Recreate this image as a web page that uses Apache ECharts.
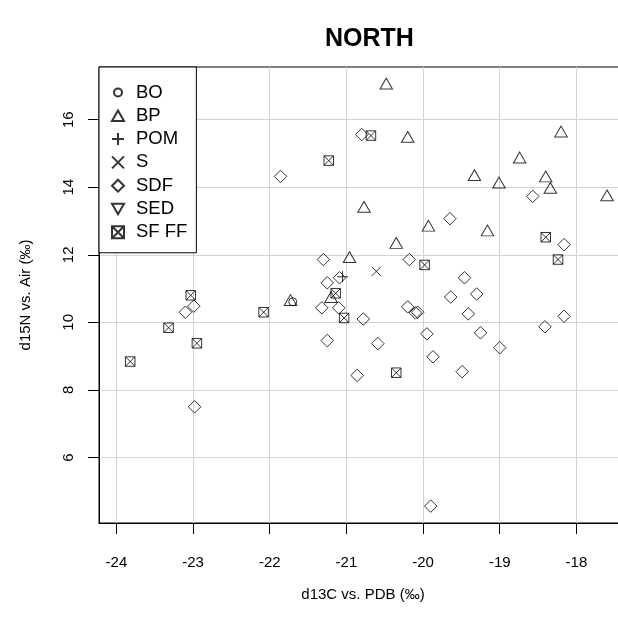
<!DOCTYPE html>
<html>
<head>
<meta charset="utf-8">
<script src="https://cdn.jsdelivr.net/npm/echarts@6/dist/echarts.min.js"></script>
<style>
  html, body { margin: 0; padding: 0; background: #fff; }
  #chart { width: 618px; height: 617px; }
</style>
</head>
<body>
<div id="chart"></div>
<script>
// d13C (x) / d15N (y) per group
const bo = [[-21.70, 10.61]]
const bp = [
  [-20.48, 17.07], [-20.20, 15.49], [-18.20, 15.65], [-18.74, 14.88],
  [-19.33, 14.36], [-19.01, 14.14], [-18.40, 14.32], [-18.34, 13.98],
  [-20.77, 13.42], [-19.93, 12.86], [-19.16, 12.72], [-20.35, 12.35],
  [-20.96, 11.93], [-21.73, 10.66], [-21.20, 10.75], [-17.60, 13.76],
]
const pom = [[-21.05, 11.35]]
const s = [[-20.61, 11.51]]
const sdf = [
  [-20.80, 15.56], [-21.86, 14.32], [-21.30, 11.86], [-18.57, 13.73],
  [-19.65, 13.07], [-18.16, 12.30], [-20.18, 11.86], [-19.46, 11.32],
  [-19.30, 10.84], [-19.64, 10.75], [-21.09, 11.32], [-21.25, 11.17],
  [-22.99, 10.48], [-23.10, 10.30], [-22.98, 7.50], [-21.32, 10.43],
  [-21.10, 10.43], [-21.25, 9.46], [-20.78, 10.10], [-20.59, 9.37],
  [-20.86, 8.43], [-20.20, 10.46], [-20.10, 10.28], [-20.07, 10.30],
  [-19.95, 9.66], [-19.87, 8.98], [-19.41, 10.25], [-19.25, 9.69],
  [-19.00, 9.25], [-19.49, 8.54], [-18.41, 9.87], [-18.16, 10.18],
  [-19.90, 4.56],
]
const sed = []
const sfff = [
  [-21.23, 14.79], [-20.68, 15.53], [-18.40, 12.52], [-18.24, 11.86],
  [-19.98, 11.70], [-23.03, 10.80], [-23.32, 9.84], [-22.95, 9.38],
  [-23.82, 8.84], [-22.08, 10.30], [-21.14, 10.86], [-21.03, 10.13],
  [-20.35, 8.51],
]

const xTicks = [-24, -23, -22, -21, -20, -19, -18]
const yTicks = [6, 8, 10, 12, 14, 16]

const FONT = 'Liberation Sans, Arial, sans-serif'
const open = { color: 'rgba(0,0,0,0)', borderColor: '#000', borderWidth: 1 }

const groups = [
  { name: 'BO', data: bo, symbol: 'circle', size: 8,
    icon: 'path://M0,0M12,12M10,6A4,4,0,1,1,2,6A4,4,0,1,1,10,6Z' },
  { name: 'BP', data: bp, symbol: 'path://M5,0L10,8.66L0,8.66Z', size: [12.5, 10.8] },
  { name: 'POM', data: pom, symbol: 'path://M0,5L10,5M5,0L5,10', size: 11 },
  { name: 'S', data: s, symbol: 'path://M0,0L10,10M10,0L0,10', size: 9 },
  { name: 'SDF', data: sdf, symbol: 'diamond', size: 12.5 },
  { name: 'SED', data: sed, symbol: 'path://M0,0L10,0L5,8.66Z', size: [12.5, 10.8] },
  { name: 'SF FF', data: sfff, symbol: 'path://M0,0L10,0L10,10L0,10ZM0,0L10,10M10,0L0,10', size: 9.5 },
]

const chart = echarts.init(document.getElementById('chart'), null, { renderer: 'canvas' })

// plot region runs a little past the right edge of the picture (box side is cut off)
chart.setOption({
  animation: false,
  backgroundColor: '#fff',
  textStyle: { fontFamily: FONT, color: '#000' },
  title: {
    text: 'NORTH',
    left: 320,
    top: 22,
    textStyle: { fontFamily: FONT, fontSize: 25, fontWeight: 'bold', color: '#000', lineHeight: 25 },
  },
  grid: {
    left: 99, top: 67, width: 528, height: 456,
    outerBoundsMode: 'none',
    containLabel: false,
    show: true, borderColor: '#000', borderWidth: 1, backgroundColor: 'transparent',
  },
  legend: {
    orient: 'vertical',
    left: 99,
    top: 67,
    backgroundColor: '#fff',
    borderColor: '#000',
    borderWidth: 1,
    borderRadius: 0,
    padding: [16, 9, 11, 12],
    itemWidth: 12,
    itemHeight: 12,
    itemGap: 4.3,
    textStyle: { fontFamily: FONT, fontSize: 18.5, lineHeight: 19, color: '#000', padding: [0, 0, 0, 7] },
    data: groups.map((g) => (g.icon ? { name: g.name, icon: g.icon } : { name: g.name })),
    selectedMode: false,
  },
  xAxis: {
    type: 'value',
    min: -24.227,
    max: -17.34,
    name: 'd13C vs. PDB (‰)',
    nameLocation: 'middle',
    nameGap: 64,
    nameTextStyle: { fontFamily: FONT, fontSize: 15, color: '#000', lineHeight: 15 },
    axisLine: { show: true, onZero: false, lineStyle: { color: '#000', width: 1 } },
    axisTick: { show: true, inside: false, length: 11, customValues: xTicks, lineStyle: { color: '#000' } },
    axisLabel: { customValues: xTicks, margin: 32, fontSize: 15, lineHeight: 15, color: '#000', fontFamily: FONT },
    splitLine: { show: true, lineStyle: { color: '#d3d3d3', width: 1 } },
  },
  yAxis: {
    type: 'value',
    min: 4.06,
    max: 17.56,
    name: 'd15N vs. Air (‰)',
    nameLocation: 'middle',
    nameGap: 66,
    nameRotate: 90,
    nameTextStyle: { fontFamily: FONT, fontSize: 15, color: '#000', lineHeight: 15 },
    axisLine: { show: true, onZero: false, lineStyle: { color: '#000', width: 1 } },
    axisTick: { show: true, inside: false, length: 11, customValues: yTicks, lineStyle: { color: '#000' } },
    axisLabel: { customValues: yTicks, rotate: 90, margin: 23, fontSize: 15, lineHeight: 15, color: '#000', fontFamily: FONT },
    splitLine: { show: true, lineStyle: { color: '#d3d3d3', width: 1 } },
  },
  series: groups.map((g) => ({
    name: g.name,
    type: 'scatter',
    data: g.data,
    symbol: g.symbol,
    symbolSize: g.size,
    itemStyle: open,
    emphasis: { disabled: true },
  })),
})
</script>
</body>
</html>
